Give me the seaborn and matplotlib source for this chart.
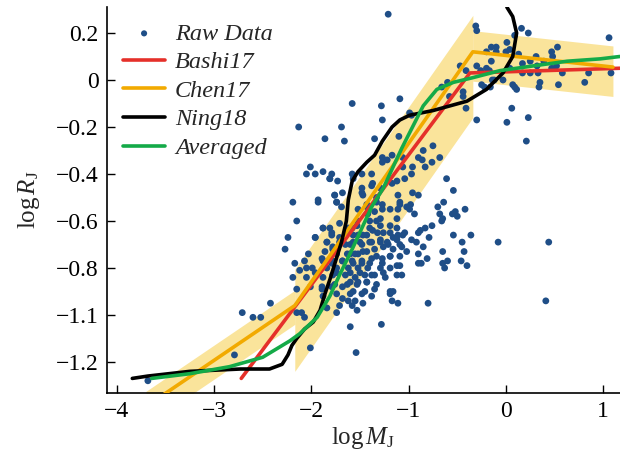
import numpy as np
import pandas as pd
import matplotlib
matplotlib.use("Agg")
import matplotlib.pyplot as plt
import seaborn as sns

# ---------------- data ----------------
raw_logM = [
    # upper-left sparse region
    -1.21, -1.58, -1.28, -1.09, -2.13, -1.69, -1.27, -1.86, -1.66, -1.35, -1.10, -1.27, -1.17, -1.06,
    # Jovian region
    -0.31, -0.30, 0.16, 0.23, 0.09, 1.06, -0.15, -0.10, 0.01, 0.53, -0.20, -0.10, 0.00, 0.04, 0.13,
    0.47, 0.48, 0.31, -0.15, -0.30, -0.26, -0.20, -0.17, -0.47, -0.41, 0.17, 0.25, 0.39, 0.32, 0.52,
    0.47, 0.04, 0.17, 0.25, 0.33, 0.58, 0.85, 1.08, -0.14, -0.12, -0.03, -0.25, -0.22, -0.16, 0.07,
    0.09, 0.11, 0.35, 0.34, 0.54, 0.81, -0.66, -0.60, -0.58, -0.44, -0.44, -0.41, 0.06, -0.30, 0.01,
    0.23, 0.21, -0.99, -0.97, -0.75, -0.85, -0.90, -0.86, -0.76, -0.68, -0.96, -0.97, -0.83, -0.96,
    -0.61, -0.54,
    # right-hand cloud
    -0.90, -0.98, -0.99, -0.94, -0.64, -0.70, -0.68, -0.65, -0.66, -0.55, -0.52, -0.50, -0.42, -0.76,
    -0.83, -0.88, -0.90, -0.97, -0.92, -0.79, -0.54, -0.45, -0.36, -0.08, 0.44, -0.85, -0.90, -0.65,
    -0.43, -0.81, -0.90, -0.87, -0.65, -0.63, -0.60, -0.46, -0.40, -0.80, 0.41,
    # lower-left
    -2.24, -2.27, -2.42, -2.71, -2.60, -2.52, -2.79, -3.68, -1.74, -2.01, -1.60, -1.28, -1.54, -2.10,
    -2.07, -2.15, -1.53,
    # dense Neptunian cluster
    -2.01, -1.96, -2.05, -1.88, -1.79, -1.81, -1.58, -1.57, -1.48, -1.38, -1.27, -1.22, -1.06, -1.04,
    -1.12, -1.17, -1.29, -1.37, -1.48, -1.68, -1.76, -1.74, -2.19, -1.93, -1.52, -1.43, -1.33, -1.27,
    -1.42, -1.19, -1.09, -1.02, -1.12, -1.33, -1.29, -1.40, -1.53, -1.58, -1.71, -1.81, -1.88, -1.79,
    -1.71, -1.62, -1.52, -1.43, -1.32, -1.19, -1.11, -1.04, -1.12, -1.22, -1.29, -1.38, -1.48, -1.57,
    -1.65, -1.78, -1.84, -2.15, -1.96, -1.86, -1.74, -1.63, -1.55, -1.47, -1.35, -1.26, -1.16, -1.07,
    -1.02, -1.09, -1.19, -1.27, -1.38, -1.48, -1.58, -1.68, -1.78, -1.88, -2.07, -2.17, -2.12, -1.99,
    -1.84, -1.74, -1.62, -1.52, -1.42, -1.29, -1.19, -1.12, -2.19, -2.05, -1.88, -1.78, -1.65, -1.55,
    -1.45, -1.35, -1.24, -1.07, -2.15, -2.01, -1.89, -1.76, -1.63, -1.53, -1.43, -1.33, -1.88, -1.74,
    -1.60, -1.48, -1.38, -1.19, -1.84, -1.71, -1.58, -1.47, -1.16,
    -1.81, -1.73, -1.93, -1.76, -1.74, -1.69, -1.48, -1.38, -1.47, -1.33, -1.43, -1.27, -1.11, -1.09,
    -1.11, -1.35, -1.29, -1.40, -1.53, -1.88, -1.79, -1.62, -1.57, -1.47, -1.37, -1.26, -1.19, -1.12,
    -1.06, -1.16, -1.09, -1.21, -1.29, -1.40, -1.50, -1.60, -1.71, -1.96, -1.84, -1.78, -1.60, -1.52,
    -1.43, -1.33, -1.19, -1.09, -1.27, -1.40, -1.48, -1.57, -1.68, -1.79, -1.89, -2.03, -2.05, -1.96,
    -1.74, -1.60, -1.50, -1.38, -1.26, -1.12, -1.60, -1.52, -1.43, -1.68, -1.79, -1.89, -1.57, -1.45,
    -1.35, -1.19, -1.68, -1.55, -1.62, -1.17, -1.11,
]
raw_logR = [
    0.28, -0.10, -0.11, -0.08, -0.20, -0.20, -0.17, -0.25, -0.26, -0.25, -0.24, -0.33, -0.32, -0.33,
    0.23, 0.21, 0.22, 0.20, 0.19, 0.18, 0.14, 0.14, 0.16, 0.14, 0.12, 0.12, 0.12, 0.13, 0.11,
    0.12, 0.10, 0.10, 0.08, 0.06, 0.04, 0.05, 0.04, 0.06, 0.04, 0.07, 0.08, 0.08, 0.06, 0.06,
    0.05, 0.05, 0.03, 0.03, 0.03, 0.03, 0.03, 0.03, 0.00, 0.00, 0.00, -0.02, -0.03, -0.03, -0.02,
    -0.03, -0.04, -0.01, -0.03, -0.02, -0.01, -0.03, -0.01, -0.07, -0.05, -0.07, -0.12, -0.12, -0.17, -0.18,
    -0.16, -0.26, -0.14, -0.15, -0.28, -0.30, -0.33, -0.34, -0.35, -0.33, -0.37, -0.40, -0.37, -0.48,
    -0.42, -0.47,
    -0.49, -0.53, -0.55, -0.57, -0.52, -0.54, -0.57, -0.59, -0.60, -0.57, -0.56, -0.58, -0.55, -0.62,
    -0.63, -0.64, -0.65, -0.68, -0.69, -0.67, -0.66, -0.69, -0.66, -0.69, -0.69, -0.71, -0.74, -0.73,
    -0.73, -0.76, -0.78, -0.78, -0.78, -0.80, -0.77, -0.77, -0.79, -0.95, -0.94,
    -0.67, -0.72, -0.95, -0.99, -1.01, -1.01, -1.17, -1.28, -0.99, -1.14, -1.05, -1.04, -1.16, -0.99,
    -1.01, -0.99, -0.98,
    -0.37, -0.40, -0.40, -0.39, -0.40, -0.42, -0.40, -0.42, -0.40, -0.40, -0.35, -0.34, -0.37, -0.42,
    -0.43, -0.44, -0.46, -0.44, -0.48, -0.48, -0.49, -0.52, -0.52, -0.52, -0.55, -0.54, -0.52, -0.55,
    -0.57, -0.55, -0.53, -0.54, -0.59, -0.60, -0.62, -0.63, -0.60, -0.63, -0.61, -0.63, -0.63, -0.66,
    -0.67, -0.65, -0.66, -0.66, -0.65, -0.65, -0.66, -0.65, -0.68, -0.69, -0.68, -0.69, -0.70, -0.69,
    -0.70, -0.71, -0.69, -0.60, -0.67, -0.73, -0.74, -0.74, -0.74, -0.73, -0.72, -0.71, -0.72, -0.71,
    -0.73, -0.75, -0.75, -0.76, -0.76, -0.77, -0.77, -0.77, -0.77, -0.77, -0.77, -0.78, -0.81, -0.80,
    -0.80, -0.80, -0.80, -0.80, -0.80, -0.80, -0.80, -0.79, -0.84, -0.84, -0.84, -0.83, -0.83, -0.84,
    -0.83, -0.83, -0.84, -0.83, -0.89, -0.88, -0.88, -0.87, -0.87, -0.87, -0.86, -0.87, -0.92, -0.91,
    -0.91, -0.91, -0.92, -0.91, -0.97, -0.96, -0.96, -0.95, -0.90,
    -0.42, -0.43, -0.51, -0.49, -0.52, -0.54, -0.46, -0.45, -0.49, -0.50, -0.53, -0.53, -0.49, -0.52,
    -0.55, -0.56, -0.59, -0.60, -0.62, -0.63, -0.65, -0.63, -0.66, -0.66, -0.64, -0.65, -0.62, -0.63,
    -0.66, -0.67, -0.70, -0.70, -0.69, -0.69, -0.69, -0.70, -0.69, -0.67, -0.69, -0.72, -0.74, -0.74,
    -0.73, -0.75, -0.75, -0.79, -0.78, -0.78, -0.78, -0.78, -0.77, -0.78, -0.76, -0.74, -0.80, -0.82,
    -0.82, -0.82, -0.82, -0.83, -0.82, -0.83, -0.86, -0.86, -0.86, -0.88, -0.88, -0.89, -0.90, -0.90,
    -0.89, -0.90, -0.93, -0.94, -0.94, -0.94, -0.95,
]

# Bashi et al. 2017 broken power law
bashi_logM = [-2.72, -0.37, 1.17]
bashi_logR = [-1.27, 0.03, 0.05]

# Chen & Kipping 2017 (Terran / Neptunian / Jovian) with its spread band
chen_logM = [-3.70, -2.17, -0.34, 1.10]
chen_logR = [-1.39, -0.96, 0.12, 0.055]
chen_band_lo = [-0.08, -0.28, -0.125]
chen_band_hi = [0.065, 0.155, 0.09]

# Ning et al. 2018
ning_logM = [-3.84, -3.68, -3.25, -2.73, -2.43, -2.30, -2.24, -2.20, -2.15, -2.07, -1.98, -1.91,
             -1.86, -1.81, -1.75, -1.69, -1.64, -1.62, -1.58, -1.52, -1.43, -1.35, -1.27, -1.17,
             -1.09, -0.99, -0.75, -0.40, -0.20, -0.03, 0.07, 0.11, 0.07, 0.01]
ning_logR = [-1.27, -1.26, -1.24, -1.23, -1.23, -1.21, -1.17, -1.13, -1.10, -1.06, -1.03, -0.98,
             -0.91, -0.85, -0.77, -0.69, -0.60, -0.51, -0.43, -0.39, -0.35, -0.32, -0.26, -0.20,
             -0.17, -0.15, -0.13, -0.09, -0.04, 0.03, 0.10, 0.20, 0.27, 0.31]

# Averaged relation
avg_logM = [-3.64, -3.25, -2.84, -2.50, -2.22, -2.12, -1.94, -1.81, -1.71, -1.58, -1.48, -1.38,
            -1.26, -1.16, -1.07, -0.96, -0.85, -0.71, -0.54, -0.34, -0.06, 0.28, 0.63, 0.97, 1.17]
avg_logR = [-1.27, -1.25, -1.22, -1.18, -1.11, -1.08, -1.01, -0.92, -0.83, -0.72, -0.63, -0.54,
            -0.46, -0.37, -0.29, -0.20, -0.11, -0.04, -0.01, 0.01, 0.04, 0.06, 0.08, 0.09, 0.10]

x_ticks = [-4, -3, -2, -1, 0, 1]
x_ticklabels = ["\u22124", "\u22123", "\u22122", "\u22121", "0", "1"]
y_ticks = [0.2, 0.0, -0.2, -0.4, -0.6, -0.8, -1.0, -1.2]
y_ticklabels = ["0.2", "0", "\u22120.2", "\u22120.4", "\u22120.6", "\u22120.8", "\u22121.1", "\u22121.2"]

# ---------------- style ----------------
sns.set_style("ticks")
plt.rcParams["font.family"] = ["Liberation Serif", "DejaVu Serif"]
plt.rcParams["mathtext.fontset"] = "custom"
plt.rcParams["mathtext.rm"] = "Liberation Serif"
plt.rcParams["mathtext.it"] = "Liberation Serif:italic"

C_BLUE = "#1F4E87"
C_RED = "#E5302A"
C_ORANGE = "#F2AA00"
C_BLACK = "#000000"
C_GREEN = "#14AA48"
C_BAND = "#F7CE4A"

fig = plt.figure(figsize=(6.2, 4.62), dpi=100)
ax = fig.add_axes([0.1726, 0.1494, 0.827, 0.8356])

# Chen17 band
for i in range(len(chen_logM) - 1):
    xs = np.array(chen_logM[i:i + 2])
    ys = np.array(chen_logR[i:i + 2])
    ax.fill_between(xs, ys + chen_band_lo[i], ys + chen_band_hi[i],
                    color=C_BAND, alpha=0.55, linewidth=0, zorder=1)

raw = pd.DataFrame({"logM": raw_logM, "logR": raw_logR})
sns.scatterplot(data=raw, x="logM", y="logR", ax=ax, color=C_BLUE, s=24,
                edgecolor="none", label="Raw Data", zorder=2)

lw = 2.6
sns.lineplot(x=bashi_logM, y=bashi_logR, ax=ax, color=C_RED, lw=lw, sort=False,
             estimator=None, label="Bashi17", zorder=3)
sns.lineplot(x=chen_logM, y=chen_logR, ax=ax, color=C_ORANGE, lw=lw, sort=False,
             estimator=None, label="Chen17", zorder=3)
sns.lineplot(x=ning_logM, y=ning_logR, ax=ax, color=C_BLACK, lw=lw, sort=False,
             estimator=None, label="Ning18", zorder=4)
sns.lineplot(x=avg_logM, y=avg_logR, ax=ax, color=C_GREEN, lw=lw, sort=False,
             estimator=None, label="Averaged", zorder=5)

ax.set_xlim(-4.10, 1.17)
ax.set_ylim(-1.332, 0.311)
ax.set_xticks(x_ticks)
ax.set_xticklabels(x_ticklabels)
ax.set_yticks(y_ticks)
ax.set_yticklabels(y_ticklabels)
ax.tick_params(direction="in", length=6, width=1.0, labelsize=17, colors="black", pad=6)
for s in ["top", "right"]:
    ax.spines[s].set_visible(False)
for s in ["left", "bottom"]:
    ax.spines[s].set_linewidth(1.2)
    ax.spines[s].set_color("black")

ax.set_xlabel(r"$\log M_{\mathrm{J}}$", fontsize=18, labelpad=2)
ax.set_ylabel(r"$\log R_{\mathrm{J}}$", fontsize=18, labelpad=10)

leg = ax.legend(loc="upper left", bbox_to_anchor=(0.0, 1.0), frameon=False,
                prop={"family": "Liberation Serif", "style": "italic", "size": 17.5},
                handlelength=1.75, handletextpad=0.4, labelspacing=0.27,
                borderaxespad=0.25, markerscale=0.9)

fig.savefig("out.png", dpi=100)
